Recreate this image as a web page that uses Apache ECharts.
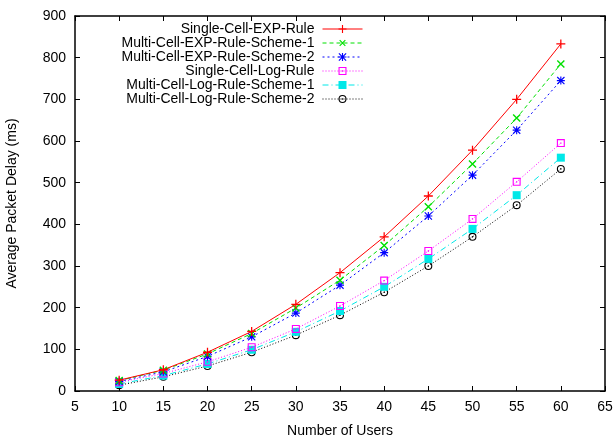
<!DOCTYPE html>
<html><head><meta charset="utf-8">
<script src="https://cdn.jsdelivr.net/npm/echarts@6/dist/echarts.min.js"></script>
<style>html,body{margin:0;padding:0;background:#fff;}#c{width:614px;height:435px;}</style>
</head><body><div id="c"></div>
<script>
const users = [10, 15, 20, 25, 30, 35, 40, 45, 50, 55, 60];
const singleExp = [26, 51, 93, 143, 208, 284, 370, 468, 578, 700, 833];
const multiExp1 = [25, 50, 89, 138, 199, 266, 349, 442, 545, 655, 785];
const multiExp2 = [23, 46, 83, 130, 187, 254, 332, 420, 518, 626, 745];
const singleLog = [21, 42, 70, 105, 149, 204, 265, 336, 413, 502, 595];
const multiLog1 = [17, 37, 65, 99, 142, 192, 250, 317, 389, 470, 560];
const multiLog2 = [14, 34, 60, 93, 134, 182, 237, 300, 370, 446, 533];
const seriesNames = ['Single-Cell-EXP-Rule','Multi-Cell-EXP-Rule-Scheme-1','Multi-Cell-EXP-Rule-Scheme-2','Single-Cell-Log-Rule','Multi-Cell-Log-Rule-Scheme-1','Multi-Cell-Log-Rule-Scheme-2'];
const seriesValues = [singleExp, multiExp1, multiExp2, singleLog, multiLog1, multiLog2];

const PLUS = 'path://M0,4.3H10V5.7H0Z M4.3,0H5.7V10H4.3Z';
const STAR = 'path://M0,4.3H10V5.7H0Z M4.3,0H5.7V10H4.3Z M0,1L1,0L10,9L9,10Z M9,0L10,1L1,10L0,9Z';
const OSQ = 'path://M0,0H10V10H0Z M1.4,1.4V8.6H8.6V1.4Z M4.2,4.2H5.8V5.8H4.2Z';
const OCIRC = 'path://M5,0A5,5 0 1,1 5,10A5,5 0 1,1 5,0Z M5,1.4A3.6,3.6 0 1,0 5,8.6A3.6,3.6 0 1,0 5,1.4Z M5,4A1,1 0 1,1 5,6A1,1 0 1,1 5,4Z';

const styles = [
  {color:'#ff0000', symbol: PLUS, size: 9, rotate: 0, type: 'solid'},
  {color:'#00e000', symbol: PLUS, size: 10, rotate: 45, type: [4,3]},
  {color:'#0000ff', symbol: STAR, size: 8, rotate: 0, type: [2,3]},
  {color:'#ff00ff', symbol: OSQ, size: 8, rotate: 0, type: [1,2]},
  {color:'#00e8e8', symbol: 'rect', size: 8, rotate: 0, type: [6,3,1,3]},
  {color:'#000000', symbol: OCIRC, size: 8, rotate: 0, type: [1,2]}
];

const chart = echarts.init(document.getElementById('c'), null, {renderer:'canvas'});
const font = 'Liberation Sans';
const axisLine = {show:true, onZero:false, lineStyle:{color:'#000', width:1.5}};
const tick = {show:true, inside:true, length:5, lineStyle:{color:'#000', width:1}};

const series = seriesNames.map((n, i) => ({
  name: n, type: 'line',
  data: users.map((u, j) => [u, seriesValues[i][j]]),
  symbol: styles[i].symbol, symbolSize: styles[i].size, symbolRotate: styles[i].rotate,
  showAllSymbol: true,
  lineStyle: {color: styles[i].color, width: 1, type: styles[i].type},
  itemStyle: {color: styles[i].color, borderWidth: 0},
  emphasis: {disabled: true},
  animation: false,
  z: 10 - i
}));

const legends = seriesNames.map((n, i) => ({
  data: [n], orient: 'vertical', align: 'right', right: 251, top: 22 + i * 14,
  itemWidth: 40, itemHeight: 10, itemGap: 0, padding: 0,
  lineStyle: {width: 1},
  textStyle: {fontFamily: font, fontSize: 14, color: '#000', padding: [0, 3, 0, 0]},
  selectedMode: false
}));

chart.setOption({
  animation: false,
  backgroundColor: '#fff',
  grid: {left: 75, right: 9, top: 16, bottom: 44, containLabel: false, outerBoundsMode: 'none'},
  legend: legends,
  xAxis: [
    {type:'value', min:5, max:65, interval:5, position:'bottom',
     name:'Number of Users', nameLocation:'middle', nameGap:33,
     nameTextStyle:{fontFamily:font, fontSize:14, color:'#000'},
     axisLine: axisLine, axisTick: tick, splitLine:{show:false},
     axisLabel:{fontFamily:font, fontSize:14, color:'#000', margin:9}},
    {type:'value', min:5, max:65, interval:5, position:'top',
     axisLine: axisLine, axisTick: tick, splitLine:{show:false}, axisLabel:{show:false}}
  ],
  yAxis: [
    {type:'value', min:0, max:900, interval:100, position:'left',
     name:'Average Packet Delay (ms)', nameLocation:'middle', nameGap:56, nameRotate:90,
     nameTextStyle:{fontFamily:font, fontSize:14, color:'#000'},
     axisLine: axisLine, axisTick: tick, splitLine:{show:false},
     axisLabel:{fontFamily:font, fontSize:14, color:'#000', margin:9}},
    {type:'value', min:0, max:900, interval:100, position:'right',
     axisLine: axisLine, axisTick: tick, splitLine:{show:false}, axisLabel:{show:false}}
  ],
  series: series
});
</script></body></html>
